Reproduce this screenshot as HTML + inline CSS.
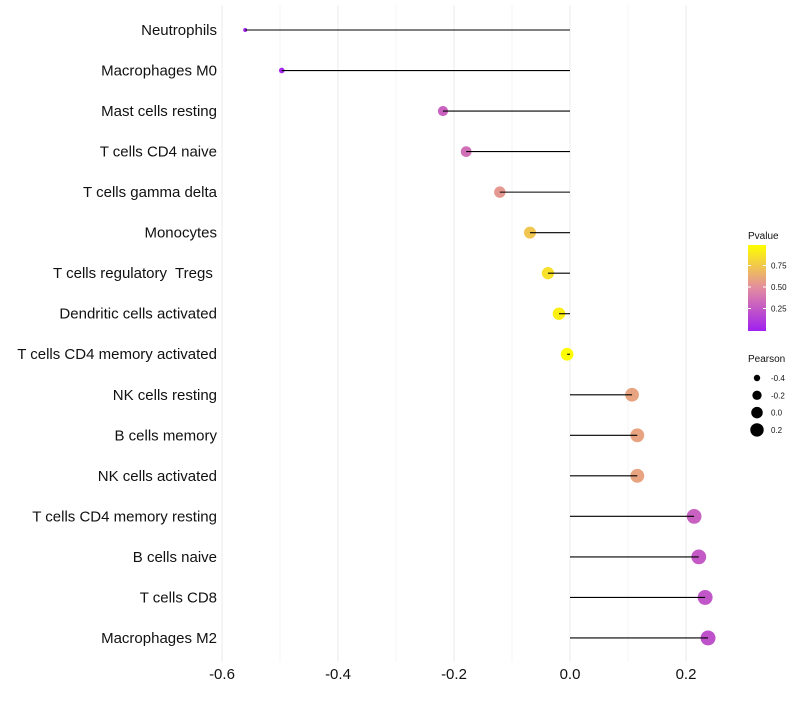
<!DOCTYPE html>
<html><head><meta charset="utf-8"><style>
body{margin:0;background:#fff;}
svg text{font-family:"Liberation Sans",sans-serif;white-space:pre;}
</style></head><body>
<svg id="chart" width="800" height="700"></svg>
<script>
const categories=["Neutrophils","Macrophages M0","Mast cells resting","T cells CD4 naive","T cells gamma delta","Monocytes","T cells regulatory  Tregs ","Dendritic cells activated","T cells CD4 memory activated","NK cells resting","B cells memory","NK cells activated","T cells CD4 memory resting","B cells naive","T cells CD8","Macrophages M2"];
const pearson=[-0.560,-0.497,-0.219,-0.179,-0.121,-0.069,-0.038,-0.019,-0.005,0.107,0.116,0.116,0.214,0.222,0.233,0.238];
const pvalues=[0.02,0.04,0.30,0.36,0.55,0.75,0.87,0.93,0.99,0.60,0.60,0.60,0.30,0.27,0.25,0.23];
const xTicks=[-0.6,-0.4,-0.2,0.0,0.2];
const xTickLabels=["-0.6","-0.4","-0.2","0.0","0.2"];
const xMinor=[-0.5,-0.3,-0.1,0.1];
const pLegendTicks=[0.25,0.5,0.75];
const pLegendLabels=["0.25","0.50","0.75"];
const sizeLegend=[-0.4,-0.2,0.0,0.2];
const sizeLegendLabels=["-0.4","-0.2","0.0","0.2"];

const NS="http://www.w3.org/2000/svg";
const svg=document.getElementById('chart');
const x=v=>570+v*580;
const y=i=>30+i*40.53;
const r=v=>Math.sqrt(Math.max(3,40.4+65*v));
function lerp(a,b,t){return a.map((c,i)=>Math.round(c+(b[i]-c)*t));}
function pcol(p){const lo=[160,32,240],mid=[226,140,160],hi=[255,255,0];
 const c=p<0.5?lerp(lo,mid,p/0.5):lerp(mid,hi,(p-0.5)/0.5);return `rgb(${c})`;}
const py=p=>330-p*86;
function el(t,a,txt){const e=document.createElementNS(NS,t);for(const k in a)e.setAttribute(k,a[k]);if(txt!==undefined)e.textContent=txt;svg.appendChild(e);return e;}

xMinor.forEach(v=>{const g=el('line',{x1:x(v),x2:x(v),y1:5,y2:662,stroke:'#f5f5f5','stroke-width':1});

});
xTicks.forEach((v,i)=>{const g=el('line',{x1:x(v),x2:x(v),y1:5,y2:662,stroke:'#ebebeb','stroke-width':1});


const t=el('text',{x:x(v),y:679,'text-anchor':'middle','font-size':15,fill:'#111'},xTickLabels[i]);

});

categories.forEach((c,i)=>{
 const t=el('text',{x:217,y:y(i)+5,'text-anchor':'end','font-size':15,fill:'#111'},c);
 
 
 const pt=el('circle',{cx:x(pearson[i]),cy:y(i),r:r(pearson[i]),fill:pcol(pvalues[i])});
 
 
 const ln=el('line',{x1:x(0),x2:x(pearson[i]),y1:y(i),y2:y(i),stroke:'#000','stroke-width':1.1});
 
 
});

const lt=el('text',{x:748,y:239,'font-size':10,fill:'#111'},'Pvalue');


const defs=document.createElementNS(NS,'defs');svg.appendChild(defs);
const lg=document.createElementNS(NS,'linearGradient');lg.setAttribute('id','pg');lg.setAttribute('x1','0');lg.setAttribute('y1','1');lg.setAttribute('x2','0');lg.setAttribute('y2','0');defs.appendChild(lg);
for(let k=0;k<=10;k++){const s=document.createElementNS(NS,'stop');s.setAttribute('offset',k/10);s.setAttribute('stop-color',pcol(k/10));lg.appendChild(s);}
const bar=el('rect',{x:748,y:245,width:18,height:86,fill:'url(#pg)'});


pLegendTicks.forEach((p,i)=>{
 el('line',{x1:748,x2:751,y1:py(p),y2:py(p),stroke:'#fff'});
 el('line',{x1:763,x2:766,y1:py(p),y2:py(p),stroke:'#fff'});
 const t=el('text',{x:771,y:py(p)+3,'font-size':8,fill:'#111'},pLegendLabels[i]);
 
 
});
const st=el('text',{x:748,y:362,'font-size':10,fill:'#111'},'Pearson');


sizeLegend.forEach((v,i)=>{
 const cy=378+i*17.3;
 const c=el('circle',{cx:757,cy:cy,r:r(v)-0.6,fill:'#000'});
 
 
 const t=el('text',{x:771,y:cy+3,'font-size':8,fill:'#111'},sizeLegendLabels[i]);
 
 
});
</script>
</body></html>
